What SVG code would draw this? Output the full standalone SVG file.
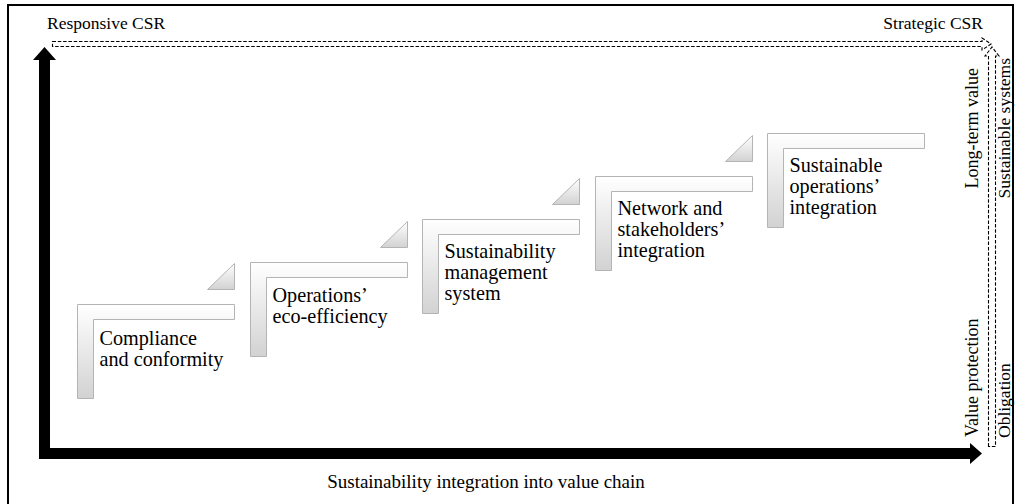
<svg xmlns="http://www.w3.org/2000/svg" width="1015" height="504" viewBox="0 0 1015 504">
<defs>
<linearGradient id="g" x1="0" y1="0" x2="0" y2="1">
<stop offset="0" stop-color="#ffffff"/>
<stop offset="1" stop-color="#d2d2d2"/>
</linearGradient>
<style>
.lbl{font-family:"Liberation Serif","Times New Roman",serif;fill:#000;}
.stp{fill:url(#g);stroke:#b4b4b4;stroke-width:1;}
.st{font-family:"Liberation Serif","Times New Roman",serif;font-size:20.2px;fill:#000;}
.dash{fill:none;stroke:#000;stroke-width:1.1;stroke-dasharray:3.5 1.8;}
</style>
</defs>
<rect width="1015" height="504" fill="#fff"/>
<rect x="8" y="5" width="1005" height="510" fill="none" stroke="#000" stroke-width="2"/>

<g id="connectors">
<path id="axes" d="M44.5,47 L56,60 L50,60 L50,448 L970,448 L970,443 L982,453.5 L970,464 L970,459 L39,459 L39,60 L33,60 Z" fill="#000"/>
<path id="top-dashed" class="dash" d="M52.5,41.5 H982 V38 L991,44 L982,50 V46.5 H52.5 Z"/>
<path id="right-dashed" class="dash" d="M988.5,446.5 V56 H985 L992,47 L999,56 H995.5 V446.5 Z"/>
</g>

<g id="labels">
<text class="lbl" x="47" y="29" font-size="17.5">Responsive CSR</text>
<text class="lbl" x="983" y="29" font-size="17.5" text-anchor="end">Strategic CSR</text>
<text class="lbl" x="486" y="488" font-size="19" text-anchor="middle">Sustainability integration into value chain</text>
<text class="lbl" font-size="18" text-anchor="end" transform="translate(978,68) rotate(-90)">Long-term value</text>
<text class="lbl" font-size="17.5" text-anchor="end" transform="translate(1009.5,58) rotate(-90)">Sustainable systems</text>
<text class="lbl" font-size="18" transform="translate(978,437) rotate(-90)">Value protection</text>
<text class="lbl" font-size="17.5" transform="translate(1009.5,438) rotate(-90)">Obligation</text>
</g>

<g id="step1" transform="translate(77.5,304.5)">
<path class="stp" d="M130,-15 H157 V-41 Z"/>
<path class="stp" d="M0,0 H157 V15 H16 V94 H0 Z"/>
<text class="st" x="22" y="40">Compliance</text>
<text class="st" x="22" y="61">and conformity</text>
</g>
<g id="step2" transform="translate(250.5,262.5)">
<path class="stp" d="M130,-15 H157 V-41 Z"/>
<path class="stp" d="M0,0 H157 V15 H16 V94 H0 Z"/>
<text class="st" x="22" y="39">Operations’</text>
<text class="st" x="22" y="60">eco-efficiency</text>
</g>
<g id="step3" transform="translate(422.5,219.5)">
<path class="stp" d="M130,-15 H157 V-41 Z"/>
<path class="stp" d="M0,0 H157 V15 H16 V94 H0 Z"/>
<text class="st" x="22" y="38">Sustainability</text>
<text class="st" x="22" y="59">management</text>
<text class="st" x="22" y="80">system</text>
</g>
<g id="step4" transform="translate(595.5,176.5)">
<path class="stp" d="M130,-15 H157 V-41 Z"/>
<path class="stp" d="M0,0 H157 V15 H16 V94 H0 Z"/>
<text class="st" x="22" y="38">Network and</text>
<text class="st" x="22" y="59">stakeholders’</text>
<text class="st" x="22" y="80">integration</text>
</g>
<g id="step5" transform="translate(767.5,133.5)">
<path class="stp" d="M0,0 H157 V15 H16 V94 H0 Z"/>
<text class="st" x="22" y="38">Sustainable</text>
<text class="st" x="22" y="59">operations’</text>
<text class="st" x="22" y="80">integration</text>
</g>
</svg>
